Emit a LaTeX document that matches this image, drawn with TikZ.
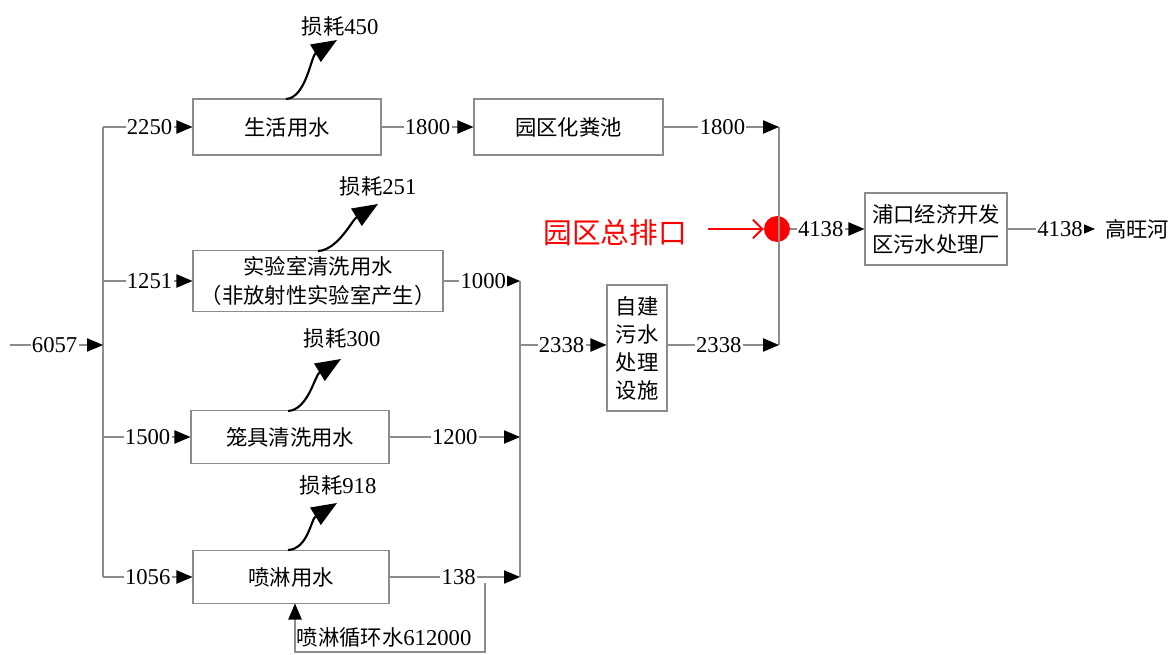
\documentclass[tikz,border=0pt]{standalone}
\usepackage{fontspec}
\setmainfont{Liberation Serif}
\newfontfamily\cjk{Noto Sans CJK SC}
\usetikzlibrary{arrows.meta,calc}
\begin{document}
\begin{tikzpicture}[x=0.75pt,y=-0.75pt,
  box/.style={draw=gray!90, line width=0.8pt, inner sep=0pt, align=center,
    font=\cjk\fontsize{16}{21}\selectfont},
  lbl/.style={fill=white, inner sep=1pt, font=\fontsize{17}{18}\selectfont},
  pipe/.style={draw=gray!90, line width=0.8pt},
  flow/.style={pipe, -{Triangle[length=12pt,width=10pt,color=black]}},
  loss/.style={line width=1.6pt, -{Triangle[length=19pt,width=15pt]}},
  losslbl/.style={inner sep=0pt, font=\fontsize{17}{18}\selectfont}]
\useasboundingbox (0,0) rectangle (1169,655);

% boxes
\node[box, minimum width=141pt, minimum height=42pt] (b1) at (287,127) {生活用水};
\node[box, minimum width=187.5pt, minimum height=45.75pt,
  font=\cjk\fontsize{16}{21.75}\selectfont] (b2) at (318,281) {实验室清洗用水\\（非放射性实验室产生）};
\node[box, minimum width=148.5pt, minimum height=39.75pt] (b3) at (290,437) {笼具清洗用水};
\node[box, minimum width=147pt, minimum height=39.75pt] (b4) at (291,577) {喷淋用水};
\node[box, minimum width=141.75pt, minimum height=42pt] (b5) at (568.5,127) {园区化粪池};
\node[box, minimum width=45pt, minimum height=94.5pt] (b6) at (637,348) {自建\\污水\\处理\\设施};
\node[box, minimum width=106.5pt, minimum height=54pt,
  font=\cjk\fontsize{16}{22.5}\selectfont] (b7) at (936,229) {浦口经济开发\\区污水处理厂};
\node[inner sep=0pt, anchor=west, font=\cjk\fontsize{16}{18}\selectfont] (river) at (1105,229) {高旺河};
\node[circle, fill=red, minimum size=19.5pt, inner sep=0pt] (dot) at (777,229) {};
\node[inner sep=0pt, text=red, font=\cjk\fontsize{21.5}{24}\selectfont] (outlet) at (615,233) {园区总排口};
\coordinate (redS) at (708,229);

% coordinates
\coordinate (in) at (10,345);
\coordinate (L0) at (103,345);
\coordinate (L1) at (103,127);
\coordinate (L2) at (103,281);
\coordinate (L3) at (103,437);
\coordinate (L4) at (103,577);
\coordinate (R1) at (520,281);
\coordinate (R0) at (520,345);
\coordinate (R3) at (520,437);
\coordinate (R4) at (520,577);
\coordinate (S1) at (779,127);
\coordinate (S2) at (779,345);
\coordinate (out) at (1095,229);
\coordinate (c1) at (485,583);
\coordinate (c2) at (485,652);
\coordinate (c3) at (295,652);
\coordinate (c4) at (295,603.5);

% buses
\draw[pipe] (L1) -- (L4);
\draw[pipe] (R1) -- (R4);
\draw[pipe] (S1) -- (S2);

% flows
\draw[flow] (in) -- node[lbl,pos=.48]{6057} (L0);
\draw[flow] (L1) -- node[lbl,pos=.52]{2250} (b1.west);
\draw[flow] (L2) -- node[lbl,pos=.52]{1251} (b2.west);
\draw[flow] (L3) -- node[lbl,pos=.51]{1500} (b3.west);
\draw[flow] (L4) -- node[lbl,pos=.5]{1056} (b4.west);
\draw[flow] (b1.east) -- node[lbl,pos=.5]{1800} (b5.west);
\draw[flow] (b5.east) -- node[lbl,pos=.51]{1800} (S1);
\draw[flow] (b2.east) -- node[lbl,pos=.52]{1000} (R1);
\draw[flow] (b3.east) -- node[lbl,pos=.5]{1200} (R3);
\draw[flow] (b4.east) -- node[lbl,pos=.53]{138} (R4);
\draw[flow] (R0) -- node[lbl,pos=.48]{2338} (b6.west |- R0);
\draw[flow] (b6.east |- S2) -- node[lbl,pos=.46]{2338} (S2);
\draw[flow] (dot.east) -- node[lbl,pos=.41]{4138} (b7.west);
\draw[flow] (b7.east) -- node[lbl,pos=.6]{4138} (out);

% recycle loop
\draw[flow] (c1) -- (c2) -- (c3) -- (c4);
\node[inner sep=0pt, font=\fontsize{17}{18}\selectfont] (rec) at (384,637) {{\cjk\fontsize{16}{18}\selectfont 喷淋循环水}612000};

% red arrow
\draw[red, line width=1.5pt, -{Straight Barb[length=7pt,width=14pt]}] (redS) -- (dot.west);

% losses
\coordinate (l1s) at (286,99);  \coordinate (l1t) at (337,40);
\coordinate (l2s) at (318,251); \coordinate (l2t) at (378,204);
\coordinate (l3s) at (288,411); \coordinate (l3t) at (341,359);
\coordinate (l4s) at (288,550); \coordinate (l4t) at (337,503);
\draw[loss] (l1s) .. controls +(20,-1) and +(-26,16) .. (l1t);
\draw[loss] (l2s) .. controls +(20,-1) and +(-26,16) .. (l2t);
\draw[loss] (l3s) .. controls +(20,-1) and +(-26,16) .. (l3t);
\draw[loss] (l4s) .. controls +(20,-1) and +(-26,16) .. (l4t);
\node[losslbl] (t1) at (340,26) {{\cjk\fontsize{16}{18}\selectfont 损耗}450};
\node[losslbl] (t2) at (378,186) {{\cjk\fontsize{16}{18}\selectfont 损耗}251};
\node[losslbl] (t3) at (342,338) {{\cjk\fontsize{16}{18}\selectfont 损耗}300};
\node[losslbl] (t4) at (338,485) {{\cjk\fontsize{16}{18}\selectfont 损耗}918};
\end{tikzpicture}
\end{document}
